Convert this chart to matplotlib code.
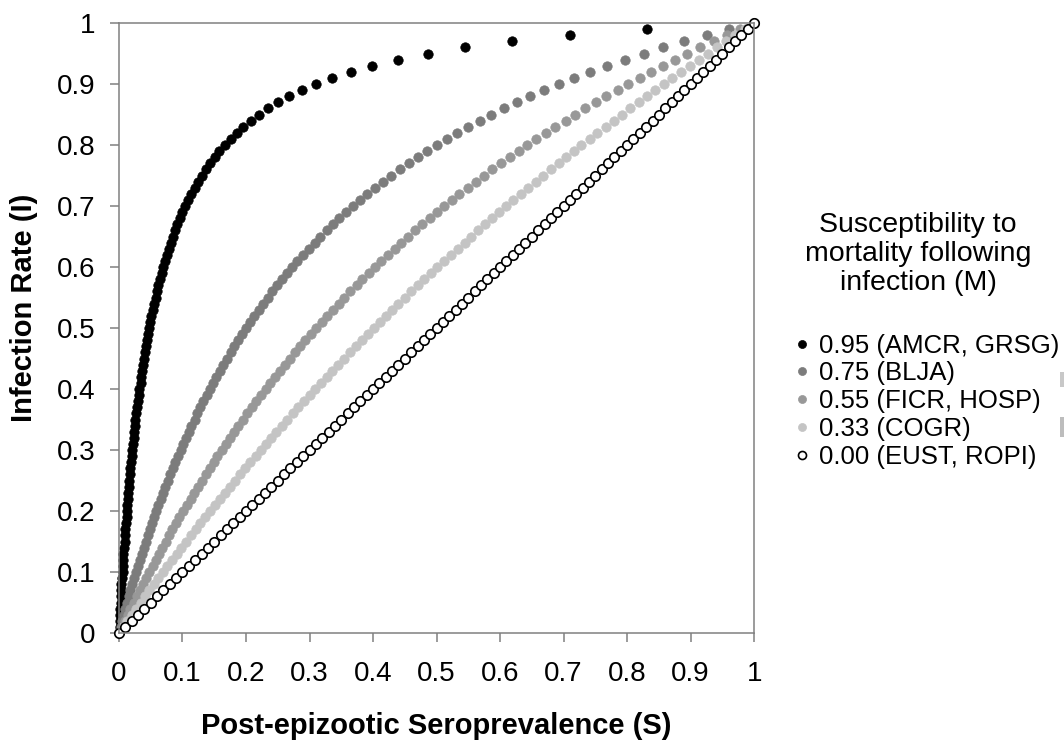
import numpy as np
import matplotlib.pyplot as plt
from matplotlib.patches import Rectangle

plt.rcParams.update({"font.family": ["Liberation Sans", "DejaVu Sans"]})

# infection rate I (in %), one point every 0.01
infection_pct = [0, 1, 2, 3, 4, 5, 6, 7, 8, 9,
                 10, 11, 12, 13, 14, 15, 16, 17, 18, 19,
                 20, 21, 22, 23, 24, 25, 26, 27, 28, 29,
                 30, 31, 32, 33, 34, 35, 36, 37, 38, 39,
                 40, 41, 42, 43, 44, 45, 46, 47, 48, 49,
                 50, 51, 52, 53, 54, 55, 56, 57, 58, 59,
                 60, 61, 62, 63, 64, 65, 66, 67, 68, 69,
                 70, 71, 72, 73, 74, 75, 76, 77, 78, 79,
                 80, 81, 82, 83, 84, 85, 86, 87, 88, 89,
                 90, 91, 92, 93, 94, 95, 96, 97, 98, 99,
                 100]

# post-epizootic seroprevalence S (per mille) for each mortality M
sero_095 = [0, 1, 1, 2, 2, 3, 3, 4, 4, 5,
            6, 6, 7, 7, 8, 9, 9, 10, 11, 12,
            12, 13, 14, 15, 16, 16, 17, 18, 19, 20,
            21, 22, 23, 24, 25, 26, 27, 29, 30, 31,
            32, 34, 35, 36, 38, 39, 41, 42, 44, 46,
            48, 49, 51, 53, 55, 58, 60, 62, 65, 67,
            70, 73, 75, 78, 82, 85, 88, 92, 96, 100,
            104, 109, 114, 119, 125, 130, 137, 143, 151, 158,
            167, 176, 186, 196, 208, 221, 235, 251, 268, 288,
            310, 336, 365, 399, 439, 487, 545, 618, 710, 832,
            1000]
sero_075 = [0, 3, 5, 8, 10, 13, 16, 18, 21, 24,
            27, 30, 33, 36, 39, 42, 45, 49, 52, 55,
            59, 62, 66, 69, 73, 77, 81, 85, 89, 93,
            97, 101, 105, 110, 114, 119, 123, 128, 133, 138,
            143, 148, 153, 159, 164, 170, 176, 181, 188, 194,
            200, 206, 213, 220, 227, 234, 241, 249, 257, 265,
            273, 281, 290, 299, 308, 317, 327, 337, 347, 358,
            368, 380, 391, 403, 416, 429, 442, 456, 470, 485,
            500, 516, 532, 550, 568, 586, 606, 626, 647, 669,
            692, 717, 742, 769, 797, 826, 857, 890, 925, 961,
            1000]
sero_055 = [0, 5, 9, 14, 18, 23, 28, 33, 38, 43,
            48, 53, 58, 63, 68, 74, 79, 84, 90, 95,
            101, 107, 113, 118, 124, 130, 137, 143, 149, 155,
            162, 168, 175, 181, 188, 195, 202, 209, 216, 223,
            231, 238, 246, 253, 261, 269, 277, 285, 293, 302,
            310, 319, 328, 337, 346, 355, 364, 374, 383, 393,
            403, 413, 423, 434, 444, 455, 466, 477, 489, 500,
            512, 524, 536, 549, 562, 574, 588, 601, 615, 629,
            643, 657, 672, 687, 703, 718, 734, 751, 767, 785,
            802, 820, 838, 857, 876, 895, 915, 936, 957, 978,
            1000]
sero_033 = [0, 7, 13, 20, 27, 34, 41, 48, 55, 62,
            69, 76, 84, 91, 98, 106, 113, 121, 128, 136,
            143, 151, 159, 167, 175, 183, 191, 199, 207, 215,
            223, 231, 240, 248, 257, 265, 274, 282, 291, 300,
            309, 318, 327, 336, 345, 354, 363, 373, 382, 392,
            401, 411, 421, 430, 440, 450, 460, 470, 481, 491,
            501, 512, 522, 533, 544, 554, 565, 576, 587, 599,
            610, 621, 633, 644, 656, 668, 680, 692, 704, 716,
            728, 741, 753, 766, 779, 792, 805, 818, 831, 844,
            858, 871, 885, 899, 913, 927, 941, 956, 970, 985,
            1000]
sero_000 = [0, 10, 20, 30, 40, 50, 60, 70, 80, 90,
            100, 110, 120, 130, 140, 150, 160, 170, 180, 190,
            200, 210, 220, 230, 240, 250, 260, 270, 280, 290,
            300, 310, 320, 330, 340, 350, 360, 370, 380, 390,
            400, 410, 420, 430, 440, 450, 460, 470, 480, 490,
            500, 510, 520, 530, 540, 550, 560, 570, 580, 590,
            600, 610, 620, 630, 640, 650, 660, 670, 680, 690,
            700, 710, 720, 730, 740, 750, 760, 770, 780, 790,
            800, 810, 820, 830, 840, 850, 860, 870, 880, 890,
            900, 910, 920, 930, 940, 950, 960, 970, 980, 990,
            1000]

labels = ["0.95 (AMCR, GRSG)", "0.75 (BLJA)", "0.55 (FICR, HOSP)",
          "0.33 (COGR)", "0.00 (EUST, ROPI)"]
series = [sero_095, sero_075, sero_055, sero_033, sero_000]
faces = ["black", "#7c7c7c", "#989898", "#c4c4c4", "white"]
edges = ["black", "#7c7c7c", "#989898", "#c4c4c4", "black"]

I = np.array(infection_pct) / 100

fig = plt.figure(figsize=(10.64, 7.43), dpi=100)
ax = fig.add_axes([0.1118, 0.148, 0.597, 0.821])

for s, lab, fc, ec in zip(series, labels, faces, edges):
    ax.plot(np.array(s) / 1000, I, ls="none", marker="o", ms=6.8,
            mfc=fc, mec=ec, mew=1.2 if fc == "white" else 0.5,
            label=lab, clip_on=False)

ax.set_xlim(0, 1)
ax.set_ylim(0, 1)
ticks = [0, 0.1, 0.2, 0.3, 0.4, 0.5, 0.6, 0.7, 0.8, 0.9, 1]
tick_lbls = ["0", "0.1", "0.2", "0.3", "0.4", "0.5", "0.6", "0.7", "0.8", "0.9", "1"]
ax.set_xticks(ticks)
ax.set_xticklabels(tick_lbls)
ax.set_yticks(ticks)
ax.set_yticklabels(tick_lbls)
ax.tick_params(direction="out", length=6.5, width=1.1, color="#808080",
               labelsize=20)
ax.tick_params(axis="x", pad=13.5)
ax.tick_params(axis="y", pad=10.5)
for sp in ax.spines.values():
    sp.set_color("#808080")
    sp.set_linewidth(1.1)

ax.set_xlabel("Post-epizootic Seroprevalence (S)", fontsize=21, fontweight="bold")
ax.xaxis.set_label_coords(0.5, -0.13)
ax.set_ylabel("Infection Rate (I)", fontsize=21, fontweight="bold")
ax.yaxis.set_label_coords(-0.127, 0.533)

# legend title drawn separately (larger, centred lines)
fig.text(918 / 1064, 1 - 212 / 743,
         "Susceptibility to\nmortality following\ninfection (M)",
         ha="center", va="top", fontsize=20.5, linespacing=1.16,
         multialignment="center")

leg = ax.legend(loc="upper left", bbox_to_anchor=(0.7462, 0.551),
                bbox_transform=fig.transFigure, frameon=False, fontsize=18.5,
                markerscale=0.85, handlelength=0.6, handletextpad=0.37,
                labelspacing=0.15, borderpad=0, borderaxespad=0)

# clipped grey fragments at the right edge of the original image
fig.patches.append(Rectangle((1060 / 1064, 1 - 387 / 743), 4 / 1064, 15 / 743,
                             transform=fig.transFigure, color="#c8c8c8", lw=0))
fig.patches.append(Rectangle((1060 / 1064, 1 - 437 / 743), 4 / 1064, 20 / 743,
                             transform=fig.transFigure, color="#bdbdbd", lw=0))

fig.savefig("out.png", dpi=100)
